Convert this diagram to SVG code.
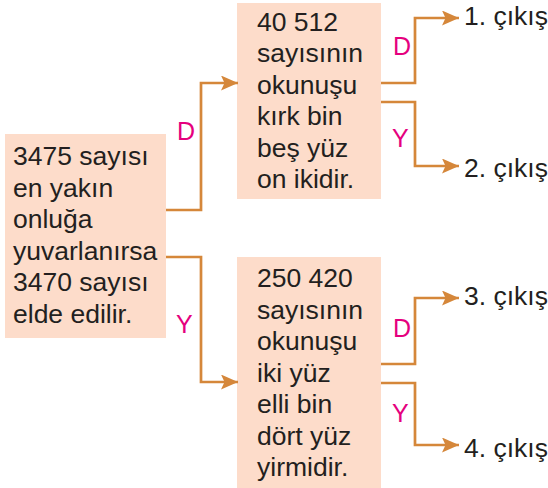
<svg xmlns="http://www.w3.org/2000/svg" width="548" height="488" viewBox="0 0 548 488">
<style>
.box{fill:#fddcca}
.t{font-family:"Liberation Sans",Arial,sans-serif;font-size:26.5px;fill:#231f20}
.lbl{font-family:"Liberation Sans",Arial,sans-serif;font-size:25px;fill:#e5007e}
.c{fill:none;stroke:#d5873a;stroke-width:2.7;marker-end:url(#ah)}
</style>
<defs>
<marker id="ah" markerUnits="userSpaceOnUse" markerWidth="18" markerHeight="16" refX="17" refY="7.5" orient="auto">
<path d="M0,0 L17,7.5 L0,15 L3.5,7.5 z" fill="#d5873a"/>
</marker>
</defs>
<g id="start">
<rect class="box" x="5" y="134" width="161" height="204"/>
<text class="t" x="13" y="165">3475 sayısı</text>
<text class="t" x="13" y="196.6">en yakın</text>
<text class="t" x="13" y="228.2">onluğa</text>
<text class="t" x="13" y="259.8">yuvarlanırsa</text>
<text class="t" x="13" y="291.4">3470 sayısı</text>
<text class="t" x="13" y="323">elde edilir.</text>
</g>
<g id="q1">
<rect class="box" x="237" y="3" width="144" height="196"/>
<text class="t" x="257" y="31">40 512</text>
<text class="t" x="257" y="62.4">sayısının</text>
<text class="t" x="257" y="93.8">okunuşu</text>
<text class="t" x="257" y="125.2">kırk bin</text>
<text class="t" x="257" y="156.6">beş yüz</text>
<text class="t" x="257" y="188">on ikidir.</text>
</g>
<g id="q2">
<rect class="box" x="237" y="257" width="144" height="231"/>
<text class="t" x="257" y="287">250 420</text>
<text class="t" x="257" y="318.5">sayısının</text>
<text class="t" x="257" y="350">okunuşu</text>
<text class="t" x="257" y="381.5">iki yüz</text>
<text class="t" x="257" y="413">elli bin</text>
<text class="t" x="257" y="444.5">dört yüz</text>
<text class="t" x="257" y="476">yirmidir.</text>
</g>
<g id="out1"><text class="t" x="464" y="25">1. çıkış</text></g>
<g id="out2"><text class="t" x="464" y="177">2. çıkış</text></g>
<g id="out3"><text class="t" x="464" y="305">3. çıkış</text></g>
<g id="out4"><text class="t" x="464" y="457">4. çıkış</text></g>
<g id="connectors">
<path class="c" d="M166,210 H201 V83 H238"/>
<path class="c" d="M166,257 H201 V382 H238"/>
<path class="c" d="M381,83 H415 V18 H459"/>
<path class="c" d="M381,102 H415 V166 H459"/>
<path class="c" d="M381,364 H415 V298 H459"/>
<path class="c" d="M381,383 H415 V445 H459"/>
<text class="lbl" x="177" y="140">D</text>
<text class="lbl" x="176" y="333">Y</text>
<text class="lbl" x="393" y="55">D</text>
<text class="lbl" x="392" y="147">Y</text>
<text class="lbl" x="393" y="337">D</text>
<text class="lbl" x="392" y="422">Y</text>
</g>
</svg>
